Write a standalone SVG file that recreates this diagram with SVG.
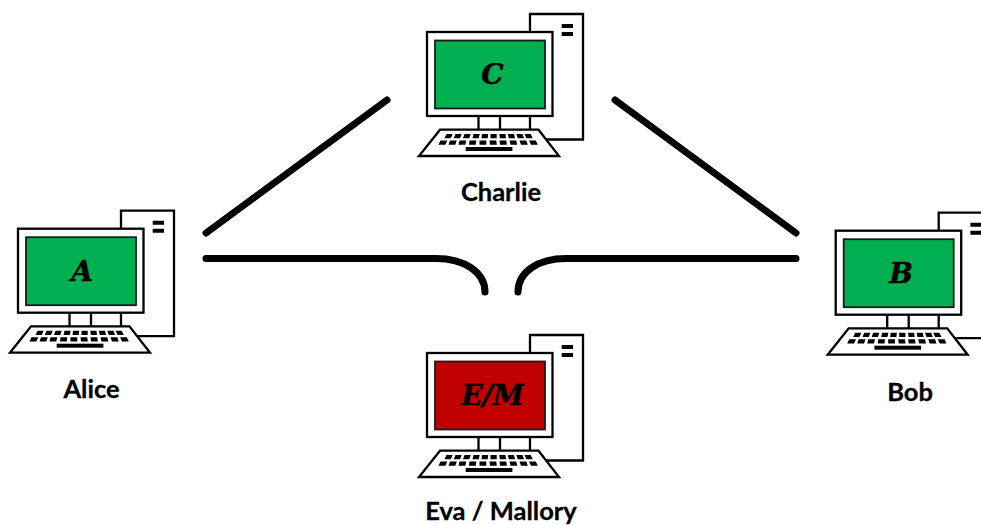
<svg xmlns="http://www.w3.org/2000/svg" width="981" height="525" viewBox="0 0 981 525">
<style>
.o{fill:#fff;stroke:#000;stroke-width:2.300}
.k{fill:#000}
.c{fill:none;stroke:#000;stroke-width:7;stroke-linecap:round}
.l{font-family:Lato,"Open Sans",sans-serif;font-weight:700;font-size:25.500px;text-anchor:middle;fill:#000;stroke:#000;stroke-width:.3}
.t{font-family:"DejaVu Serif",serif;font-weight:700;font-style:italic;font-size:28px;text-anchor:middle;fill:#000;stroke:#000;stroke-width:.5}
</style>
<defs>
<g id="pc">
<path class="o" d="M530 32V14H583V139.500H530"/>
<path class="k" d="M561.700 24H573V28H561.700ZM561.700 32H573V36H561.700Z"/>
<rect class="o" x="427" y="32" width="125.500" height="84"/>
<path class="o" d="M478.500 116V129.500M500 116V129.500M530 116V129.500"/>
<path class="o" d="M440 129.700H538.500L559 156H419Z"/>
<g class="k">
<path d="M446.500 134h6.200l-2 4.300h-6.200zM455.500 134h6.200l-1.700 4.300h-6.200zM464.500 134h6.200l-1.500 4.300h-6.200zM473.500 134h6.200l-1 4.300h-6.200zM482 134h6.200l-.5 4.300h-6.200zM490.500 134h6.200v4.300h-6.200zM499.300 134h6.200l.5 4.300h-6.200zM507.800 134h6.200l1 4.300h-6.200zM516.300 134h6.200l1.500 4.300h-6.200zM524.500 134h6.200l2 4.300h-6.200z"/>
<path d="M440.500 140.500h6.800l-2 4.300h-6.800zM450 140.500h6.800l-1.500 4.300h-6.800zM459.500 140.500h6.800l-1 4.300h-6.800zM469.500 140.500h6.800l-.5 4.300h-6.800zM479.500 140.500h6.800v4.300h-6.800zM489.500 140.500h6.800l.5 4.300h-6.800zM499.500 140.500h6.800l.5 4.300h-6.800zM509.500 140.500h6.800l1 4.300h-6.800zM519.500 140.500h6.800l1.500 4.300h-6.800zM529 140.500h6.800l2 4.300h-6.800z"/>
<rect x="465.700" y="147" width="46.700" height="4"/>
</g>
</g>
</defs>
<g id="connectors">
<path class="c" d="M206 233L387 100"/>
<path class="c" d="M615 100L796 233"/>
<path class="c" d="M206 258.500H436C464 258.500 485 272 485 292"/>
<path class="c" d="M796 258.500H566C538 258.500 518 272 518 292"/>
</g>
<g id="charlie">
<use href="#pc"/>
<rect x="435" y="40.500" width="110" height="68" fill="#00b050" stroke="#1a1a1a" stroke-width="1.800"/>
<text class="t" x="492.500" y="84">C</text>
<text class="l" x="501" y="201">Charlie</text>
</g>
<g id="alice">
<use href="#pc" x="-409" y="196.700"/>
<rect x="26" y="237.200" width="110" height="68" fill="#00b050" stroke="#1a1a1a" stroke-width="1.800"/>
<text class="t" x="82" y="281">A</text>
<text class="l" x="91.500" y="398">Alice</text>
</g>
<g id="bob">
<use href="#pc" x="408.700" y="198.700"/>
<rect x="843.700" y="239.200" width="110" height="68" fill="#00b050" stroke="#1a1a1a" stroke-width="1.800"/>
<text class="t" x="901" y="283">B</text>
<text class="l" x="910" y="401">Bob</text>
</g>
<g id="eva">
<use href="#pc" y="321"/>
<rect x="435" y="361.500" width="110" height="68" fill="#c00000" stroke="#1a1a1a" stroke-width="1.800"/>
<text class="t" x="492.500" y="405">E/M</text>
<text class="l" x="501" y="519.500">Eva / Mallory</text>
</g>
</svg>
